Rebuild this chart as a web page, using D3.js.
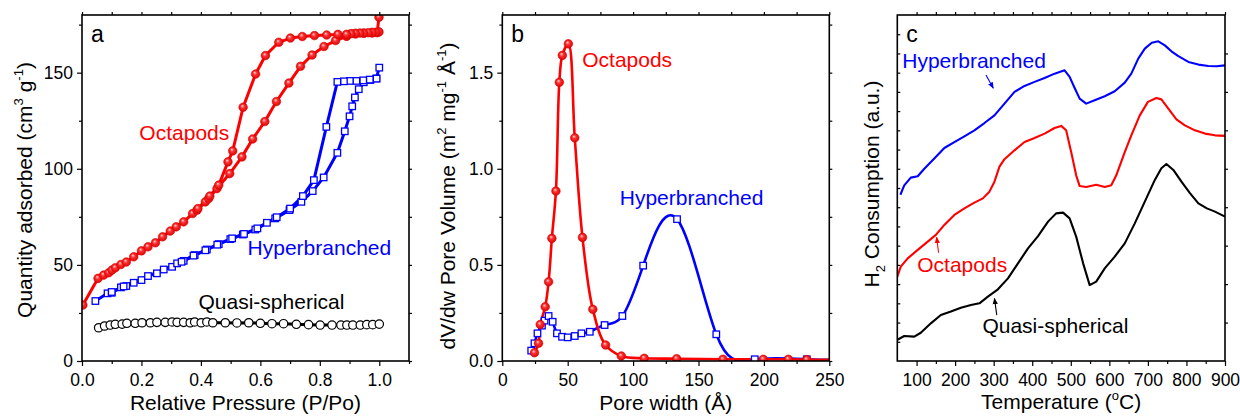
<!DOCTYPE html>
<html>
<head>
<meta charset="utf-8">
<script src="https://cdn.jsdelivr.net/npm/d3@7"></script>
<style>
  body { margin: 0; background: #fff; }
  svg { display: block; font-family: "Liberation Sans", Arial, sans-serif; }
</style>
</head>
<body>
<svg id="chart" width="1240" height="416"></svg>
<script>
// ---- Panel a: N2 isotherms (P/Po, cm3/g) ----
const octapodsAds = [[0.003,29.1],[0.054,43.0],[0.073,44.7],[0.09,45.9],[0.101,47.3],[0.112,48.5],[0.131,50.2],[0.149,51.5],[0.174,54.2],[0.2,57.3],[0.222,59.4],[0.247,61.5],[0.271,64.6],[0.297,67.6],[0.317,69.8],[0.342,72.4],[0.372,76.7],[0.387,78.5],[0.415,82.8],[0.426,84.5],[0.454,89.7],[0.497,97.5],[0.538,106.2],[0.574,115.5],[0.615,124.6],[0.654,135.0],[0.696,144.6],[0.735,153.3],[0.774,159.2],[0.814,163.6],[0.853,166.7],[0.89,168.9],[0.92,170.1],[0.948,170.5],[0.976,170.6],[0.993,170.8],[0.999,178.8]];
const octapodsDes = [[0.999,171.2],[0.988,171.0],[0.976,171.0],[0.963,170.8],[0.948,170.6],[0.935,170.6],[0.92,170.5],[0.905,170.3],[0.89,169.9],[0.861,169.9],[0.823,169.6],[0.782,169.3],[0.741,168.8],[0.701,168.0],[0.662,165.8],[0.617,158.9],[0.584,149.3],[0.542,132.0],[0.507,109.3],[0.491,103.6],[0.46,91.5],[0.43,85.8],[0.39,79.3]];
const hyperAds = [[0.045,31.2],[0.086,35.2],[0.1,35.5],[0.131,38.3],[0.149,39.0],[0.174,40.7],[0.2,42.1],[0.222,44.2],[0.252,45.6],[0.275,47.6],[0.303,49.0],[0.32,50.8],[0.342,52.1],[0.379,55.1],[0.42,58.0],[0.46,60.8],[0.499,63.4],[0.541,65.8],[0.583,68.4],[0.622,71.9],[0.65,74.2],[0.698,78.5],[0.738,82.8],[0.776,88.4],[0.813,95.5],[0.859,108.3],[0.884,119.5],[0.9,127.3],[0.909,132.5],[0.918,137.1],[0.931,141.4],[0.948,145.0],[0.97,146.2],[0.99,147.0],[1.0,152.6]];
const hyperDes = [[0.991,146.9],[0.968,146.4],[0.946,146.0],[0.923,145.7],[0.901,145.7],[0.881,145.5],[0.859,145.2],[0.822,121.8],[0.78,94.1],[0.743,85.8],[0.70,79.3],[0.655,74.8],[0.59,69.0],[0.545,66.1],[0.505,63.8],[0.455,60.5],[0.415,57.6],[0.375,54.8],[0.335,51.6],[0.14,38.8],[0.1,35.9]];
const quasiIso = [[0.056,17.3],[0.076,18.2],[0.095,18.7],[0.112,19.1],[0.135,19.2],[0.151,19.6],[0.179,19.6],[0.202,19.9],[0.23,19.9],[0.252,20.1],[0.28,20.1],[0.303,20.3],[0.32,20.1],[0.342,20.1],[0.364,19.9],[0.379,20.3],[0.401,19.9],[0.42,20.3],[0.44,19.9],[0.482,19.9],[0.521,19.8],[0.561,19.9],[0.6,19.6],[0.639,19.4],[0.678,19.4],[0.721,19.1],[0.762,18.9],[0.801,18.7],[0.841,18.7],[0.871,18.7],[0.891,18.7],[0.911,18.7],[0.936,18.7],[0.958,18.9],[0.978,18.9],[1.0,19.2]];

// ---- Panel b: pore size distribution (Å, dV/dw) ----
const octapodsPsd = [[24.6,0.043],[27.7,0.092],[29,0.19],[32.8,0.282],[35.4,0.412],[37.9,0.638],[41,0.884],[43.6,1.45],[45.9,1.59],[50.5,1.65],[55.4,1.161],[61.3,0.643],[69.2,0.269],[79,0.083],[91,0.026],[108.5,0.014],[133.3,0.012],[168.7,0.009],[199.5,0.009],[218.7,0.009],[232.8,0.007]];
const hyperPsd = [[22.1,0.054],[24.6,0.092],[26.9,0.144],[30.3,0.184],[32.3,0.21],[35.4,0.234],[38.5,0.204],[41.8,0.144],[45.7,0.126],[50,0.123],[55.4,0.13],[60.5,0.144],[66.9,0.152],[78.2,0.187],[91.8,0.234],[107.7,0.496],[133.6,0.738],[163.6,0.139],[193,0.009],[232.8,0.009]];
const octapodsPsdTail = [250, 0.006];
const hyperPsdTail = [250, 0.006];

// ---- Panel c: H2-TPR traces (°C, a.u.) ----
const hyperTpr = [[58,8.65],[68,9.14],[85,9.54],[103,9.61],[120,10.0],[146,10.53],[172,11.08],[198,11.39],[224,11.69],[250,12.0],[276,12.38],[302,12.78],[328,13.39],[354,14.0],[380,14.31],[406,14.52],[432,14.72],[458,14.95],[484,15.12],[497,14.78],[510,14.2],[523,13.65],[540,13.39],[562,13.56],[588,13.77],[614,14.03],[640,14.48],[657,14.95],[675,15.73],[692,16.25],[710,16.56],[727,16.63],[744,16.42],[761,16.11],[778,15.87],[805,15.56],[831,15.42],[857,15.35],[878,15.33],[900,15.38]];
const octapodsTpr = [[49,4.33],[59,4.91],[77,5.34],[103,5.78],[129,6.21],[150,6.56],[172,7.08],[198,7.6],[224,7.94],[250,8.24],[272,8.46],[289,8.81],[302,9.33],[315,10.11],[328,10.5],[354,10.96],[380,11.39],[406,11.6],[432,11.83],[458,12.12],[475,12.23],[488,12.0],[501,10.87],[514,9.66],[523,9.1],[540,9.05],[566,9.17],[588,9.05],[605,9.14],[618,9.66],[640,10.87],[657,11.74],[679,12.78],[700,13.48],[722,13.68],[735,13.61],[753,13.13],[774,12.57],[796,12.26],[822,12.0],[848,11.83],[874,11.74],[900,11.71]];
const quasiTpr = [[49,1.09],[68,1.3],[94,1.27],[111,1.47],[137,1.96],[163,2.39],[189,2.57],[215,2.77],[241,2.91],[263,3.0],[285,3.35],[311,3.73],[337,4.3],[363,5.08],[389,5.86],[415,6.5],[441,7.25],[462,7.68],[480,7.72],[497,7.42],[514,6.47],[532,5.08],[549,3.95],[566,4.13],[588,4.82],[614,5.43],[640,6.12],[666,7.16],[692,8.29],[718,9.42],[735,10.03],[748,10.25],[766,9.94],[787,9.33],[809,8.73],[831,8.2],[853,7.94],[874,7.77],[900,7.51]];

// ticks
const aXMajor = [0, 0.2, 0.4, 0.6, 0.8, 1.0];
const aXMinor = [0.1, 0.3, 0.5, 0.7, 0.9, 1.1];
const aYMajor = [0, 50, 100, 150];
const aYMinor = [25, 75, 125, 175];
const bXMajor = [0, 50, 100, 150, 200, 250];
const bXMinor = [25, 75, 125, 175, 225];
const bYMajor = [0, 0.5, 1.0, 1.5];
const bYMinor = [0.25, 0.75, 1.25, 1.75];
const cXMajor = [100, 200, 300, 400, 500, 600, 700, 800, 900];
const cXMinor = [150, 250, 350, 450, 550, 650, 750, 850];
const cYMinor = d3.range(1, 18);
const cYRight = d3.range(2, 18, 2);

const RED = '#ff0000', BLUE = '#0000ff', BLACK = '#000000';
const TOP = 15, BOTTOM = 361;
const FONT = '"Liberation Sans", Arial, sans-serif';
const TITLE_SIZE = 21, LABEL_SIZE = 21, TICK_SIZE = 17.5;

const svg = d3.select('#chart');
const defs = svg.append('defs');

// shaded ball used for the Octapods markers
const grad = defs.append('radialGradient').attr('id', 'ball')
  .attr('cx', '50%').attr('cy', '50%').attr('r', '55%').attr('fx', '38%').attr('fy', '32%');
grad.append('stop').attr('offset', '0%').attr('stop-color', '#ffd8d8');
grad.append('stop').attr('offset', '40%').attr('stop-color', '#ff3030');
grad.append('stop').attr('offset', '100%').attr('stop-color', '#d40000');

// arrow head for panel c callouts
['blue', 'red', 'black'].forEach(c => {
  defs.append('marker').attr('id', 'arrow-' + c)
    .attr('viewBox', '0 0 10 10').attr('refX', 9).attr('refY', 5)
    .attr('markerWidth', 6).attr('markerHeight', 6).attr('orient', 'auto')
    .append('path').attr('d', 'M0,1 L10,5 L0,9 Z').attr('fill', c);
});

function makePanel(id, left, right, xDomain, yDomain) {
  const x = d3.scaleLinear().domain(xDomain).range([left, right]);
  const y = d3.scaleLinear().domain(yDomain).range([BOTTOM, TOP]);
  const g = svg.append('g').attr('id', id);
  defs.append('clipPath').attr('id', 'clip-' + id).append('rect')
    .attr('x', left).attr('y', TOP).attr('width', right - left).attr('height', BOTTOM - TOP);
  const plot = g.append('g').attr('clip-path', `url(#clip-${id})`);
  return { x, y, g, plot, left, right };
}

function axis(p, gen, tr) {
  const s = p.g.append('g').attr('transform', tr).call(gen);
  s.select('.domain').remove();
  s.selectAll('line').attr('stroke', '#000').attr('stroke-width', 1.2);
  s.attr('font-family', FONT).attr('font-size', TICK_SIZE);
  s.selectAll('text').attr('fill', '#000');
  return s;
}

function drawFrame(p, o) {
  axis(p, d3.axisBottom(p.x).tickValues(o.xMajor).tickSize(5).tickPadding(8).tickFormat(o.xFormat), `translate(0,${BOTTOM})`);
  axis(p, d3.axisBottom(p.x).tickValues(o.xMinor).tickSize(3).tickFormat(''), `translate(0,${BOTTOM})`);
  axis(p, d3.axisTop(p.x).tickValues(o.xMajor.concat(o.xMinor)).tickSize(3).tickFormat(''), `translate(0,${TOP})`);
  if (o.yMajor) {
    axis(p, d3.axisLeft(p.y).tickValues(o.yMajor).tickSize(5).tickPadding(4).tickFormat(o.yFormat), `translate(${p.left},0)`);
    axis(p, d3.axisLeft(p.y).tickValues(o.yMinor).tickSize(3).tickFormat(''), `translate(${p.left},0)`);
    axis(p, d3.axisRight(p.y).tickValues(o.yMajor.concat(o.yMinor)).tickSize(3).tickFormat(''), `translate(${p.right},0)`);
  } else {
    axis(p, d3.axisLeft(p.y).tickValues(o.yMinor).tickSize(-3).tickFormat(''), `translate(${p.left},0)`);
    axis(p, d3.axisRight(p.y).tickValues(o.yRight).tickSize(3).tickFormat(''), `translate(${p.right},0)`);
  }
  p.g.append('rect')
    .attr('x', p.left).attr('y', TOP).attr('width', p.right - p.left).attr('height', BOTTOM - TOP)
    .attr('fill', 'none').attr('stroke', '#000').attr('stroke-width', 1.6);
}

// text with optional super/subscript parts; the shift is undone on the next part
function richText(sel, parts, size) {
  let back = 0;
  parts.forEach(pt => {
    if (pt.sup || pt.sub) {
      const shift = pt.sup ? -size * 0.42 : size * 0.3;
      sel.append('tspan').attr('font-size', size * 0.62).attr('dy', shift + back).text(pt.sup || pt.sub);
      back = -shift;
    } else {
      sel.append('tspan').attr('dy', back).text(pt.t);
      back = 0;
    }
  });
}

function xTitle(p, parts, baseline) {
  const t = p.g.append('text').attr('x', (p.left + p.right) / 2).attr('y', baseline)
    .attr('text-anchor', 'middle').attr('font-size', TITLE_SIZE).attr('font-family', FONT);
  richText(t, parts, TITLE_SIZE);
}

function yTitle(p, parts, baselineX, centerY) {
  const t = p.g.append('text')
    .attr('transform', `translate(${baselineX},${centerY}) rotate(-90)`)
    .attr('text-anchor', 'middle').attr('font-size', TITLE_SIZE).attr('font-family', FONT);
  richText(t, parts, TITLE_SIZE);
}

function label(p, txt, xv, yv, color) {
  p.g.append('text').attr('x', p.x(xv)).attr('y', p.y(yv))
    .attr('font-size', LABEL_SIZE).attr('font-family', FONT).attr('fill', color).text(txt);
}

function panelLetter(p, txt) {
  p.g.append('text').attr('x', p.left + 9).attr('y', TOP + 27)
    .attr('font-size', 23).attr('font-family', FONT).attr('fill', '#000').text(txt);
}

function drawLine(p, data, color, width, curve) {
  p.plot.append('path').datum(data)
    .attr('fill', 'none').attr('stroke', color).attr('stroke-width', width)
    .attr('stroke-linejoin', 'round')
    .attr('d', d3.line().x(d => p.x(d[0])).y(d => p.y(d[1])).curve(curve || d3.curveLinear));
}

function balls(p, data, r) {
  p.plot.append('g').selectAll('circle').data(data).join('circle')
    .attr('cx', d => p.x(d[0])).attr('cy', d => p.y(d[1])).attr('r', r)
    .attr('fill', 'url(#ball)').attr('stroke', '#e00000').attr('stroke-width', 0.6);
}

function squares(p, data, s) {
  p.plot.append('g').selectAll('rect').data(data).join('rect')
    .attr('x', d => p.x(d[0]) - s / 2).attr('y', d => p.y(d[1]) - s / 2)
    .attr('width', s).attr('height', s)
    .attr('fill', '#fff').attr('stroke', BLUE).attr('stroke-width', 1.3);
}

function rings(p, data, r) {
  p.plot.append('g').selectAll('circle').data(data).join('circle')
    .attr('cx', d => p.x(d[0])).attr('cy', d => p.y(d[1])).attr('r', r)
    .attr('fill', '#fff').attr('stroke', BLACK).attr('stroke-width', 1.2);
}

function arrow(p, from, to, color) {
  p.g.append('line')
    .attr('x1', p.x(from[0])).attr('y1', p.y(from[1]))
    .attr('x2', p.x(to[0])).attr('y2', p.y(to[1]))
    .attr('stroke', color).attr('stroke-width', 1.1)
    .attr('marker-end', `url(#arrow-${color === BLUE ? 'blue' : color === RED ? 'red' : 'black'})`);
}

// ================= Panel a =================
const pa = makePanel('a', 82, 409, [0, 1.1], [0, 180]);
drawFrame(pa, { xMajor: aXMajor, xMinor: aXMinor, yMajor: aYMajor, yMinor: aYMinor,
  xFormat: d3.format('.1f'), yFormat: d3.format('d') });
drawLine(pa, quasiIso, BLACK, 3);
drawLine(pa, hyperAds, BLUE, 3);
drawLine(pa, hyperDes, BLUE, 3);
drawLine(pa, octapodsAds, RED, 3);
drawLine(pa, octapodsDes, RED, 3);
rings(pa, quasiIso, 4.2);
squares(pa, hyperAds, 6.5);
squares(pa, hyperDes, 6.5);
balls(pa, octapodsAds, 4.3);
balls(pa, octapodsDes, 4.3);
label(pa, 'Octapods', 0.193, 114.9, RED);
label(pa, 'Hyperbranched', 0.557, 55.1, BLUE);
label(pa, 'Quasi-spherical', 0.392, 27, BLACK);
panelLetter(pa, 'a');
xTitle(pa, [{ t: 'Relative Pressure (P/Po)' }], 410);
yTitle(pa, [{ t: 'Quantity adsorbed (cm' }, { sup: '3' }, { t: ' g' }, { sup: '-1' }, { t: ')' }], 32, 190);

// ================= Panel b =================
const pb = makePanel('b', 502.3, 829.3, [0, 250], [0, 1.8]);
drawFrame(pb, { xMajor: bXMajor, xMinor: bXMinor, yMajor: bYMajor, yMinor: bYMinor,
  xFormat: d3.format('d'), yFormat: d3.format('.1f') });
drawLine(pb, hyperPsd.concat([hyperPsdTail]), BLUE, 2.6, d3.curveNatural);
drawLine(pb, octapodsPsd.concat([octapodsPsdTail]), RED, 2.6, d3.curveCatmullRom.alpha(0.5));
squares(pb, hyperPsd, 6.5);
balls(pb, octapodsPsd, 4.3);
label(pb, 'Octapods', 61.1, 1.53, RED);
label(pb, 'Hyperbranched', 89.8, 0.811, BLUE);
panelLetter(pb, 'b');
xTitle(pb, [{ t: 'Pore width (Å)' }], 410);
yTitle(pb, [{ t: 'dV/dw Pore Volume (m' }, { sup: '2' }, { t: ' mg' }, { sup: '-1' }, { t: ' Å' }, { sup: '-1' }, { t: ')' }], 455, 196);

// ================= Panel c =================
const pc = makePanel('c', 897.3, 1225, [50, 900], [0, 18]);
drawFrame(pc, { xMajor: cXMajor, xMinor: cXMinor, yMinor: cYMinor, yRight: cYRight,
  xFormat: d3.format('d') });
drawLine(pc, hyperTpr, BLUE, 2.1);
drawLine(pc, octapodsTpr, RED, 2.1);
drawLine(pc, quasiTpr, BLACK, 2.1);
label(pc, 'Hyperbranched', 62.8, 15.24, BLUE);
label(pc, 'Octapods', 101.8, 4.63, RED);
label(pc, 'Quasi-spherical', 270.8, 1.46, BLACK);
arrow(pc, [280, 14.88], [299, 14.19], BLUE);
arrow(pc, [157, 5.63], [152, 6.44], RED);
arrow(pc, [308, 2.39], [302, 3.26], BLACK);
panelLetter(pc, 'c');
xTitle(pc, [{ t: 'Temperature (' }, { sup: 'o' }, { t: 'C)' }], 409);
yTitle(pc, [{ t: 'H' }, { sub: '2' }, { t: ' Consumption (a.u.)' }], 879, 184);
</script>
</body>
</html>
